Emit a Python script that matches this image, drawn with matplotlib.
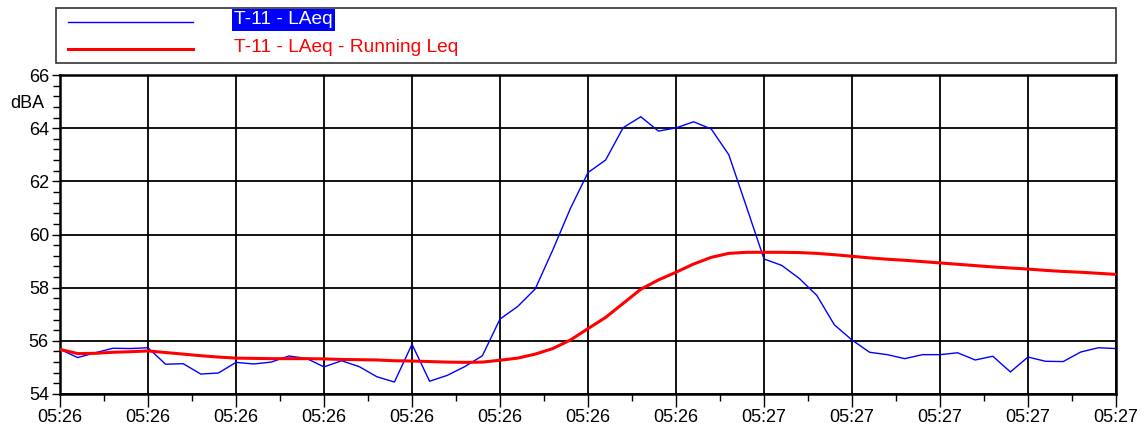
import datetime as dt
import matplotlib.pyplot as plt
import matplotlib.dates as mdates
from matplotlib.lines import Line2D
from matplotlib.patches import Rectangle
from matplotlib.ticker import MultipleLocator

plt.rcParams['font.family'] = ['Liberation Sans Narrow', 'Liberation Sans', 'DejaVu Sans']

# one-second LAeq samples, 05:26:20 .. 05:27:20
laeq = [55.68, 55.37, 55.55, 55.72, 55.71, 55.74, 55.12, 55.14, 54.75, 54.79,
        55.19, 55.13, 55.20, 55.43, 55.34, 55.02, 55.25, 55.03, 54.65, 54.45,
        55.87, 54.48, 54.70, 55.03, 55.44, 56.82, 57.29, 57.95, 59.42, 60.98,
        62.33, 62.80, 64.02, 64.43, 63.89, 64.01, 64.24, 63.97, 63.00, 61.05,
        59.08, 58.84, 58.35, 57.71, 56.60, 56.03, 55.57, 55.48, 55.33, 55.48,
        55.48, 55.55, 55.28, 55.42, 54.83, 55.39, 55.23, 55.22, 55.58, 55.74,
        55.71]
running_leq = [55.68, 55.52, 55.53, 55.57, 55.59, 55.62, 55.56, 55.50, 55.44, 55.39,
               55.35, 55.34, 55.33, 55.33, 55.33, 55.32, 55.30, 55.29, 55.28, 55.25,
               55.24, 55.22, 55.20, 55.19, 55.20, 55.27, 55.35, 55.50, 55.71, 56.03,
               56.46, 56.88, 57.41, 57.94, 58.29, 58.58, 58.89, 59.14, 59.29, 59.33,
               59.33, 59.33, 59.32, 59.29, 59.24, 59.18, 59.12, 59.07, 59.03, 58.98,
               58.93, 58.88, 58.83, 58.78, 58.74, 58.70, 58.65, 58.61, 58.58, 58.54,
               58.50]
start = dt.datetime(2020, 1, 1, 5, 26, 20)
times = [start + dt.timedelta(seconds=i) for i in range(len(laeq))]

fig = plt.figure(figsize=(11.41, 4.30), dpi=100)
ax = fig.add_axes([60 / 1141, 1 - 394 / 430, 1056 / 1141, 319 / 430])

ax.plot(times, laeq, color='#0000ff', lw=1.0, zorder=3)
ax.plot(times, running_leq, color='#ff0000', lw=2.2, zorder=4)

ax.set_xlim(times[0], times[-1])
ax.set_ylim(54, 66)
ax.yaxis.set_major_locator(MultipleLocator(2))
ax.yaxis.set_minor_locator(MultipleLocator(0.4))
ax.xaxis.set_major_locator(mdates.SecondLocator(bysecond=range(0, 60, 5)))
ax.xaxis.set_minor_locator(mdates.MicrosecondLocator(interval=2500000))
ax.xaxis.set_major_formatter(mdates.DateFormatter('%H:%M'))

ax.grid(True, which='major', color='black', lw=1.3)
ax.tick_params(which='major', direction='out', length=9, width=1.0, labelsize=13, pad=2)
ax.tick_params(which='minor', direction='out', length=5, width=1.0)
ax.tick_params(axis='y', which='major', length=6)
for sp in ax.spines.values():
    sp.set_linewidth(1.8)

fig.text(10 / 1141, 1 - 103 / 430, 'dBA', fontsize=13, va='center', ha='left')

# legend panel above the plot
fig.add_artist(Rectangle((56 / 1141, 1 - 63 / 430), 1060 / 1141, 55 / 430,
                         transform=fig.transFigure, fill=False, edgecolor='#333333', lw=1.2))
fig.add_artist(Line2D([68 / 1141, 193 / 1141], [1 - 22 / 430] * 2,
                      transform=fig.transFigure, color='#0000ff', lw=1.0))
fig.add_artist(Line2D([68 / 1141, 193 / 1141], [1 - 49 / 430] * 2,
                      transform=fig.transFigure, color='#ff0000', lw=2.2))
fig.text(234 / 1141, 1 - 20 / 430, 'T-11 - LAeq', fontsize=13.8, color='white', va='center',
         bbox=dict(boxstyle='square,pad=0.12', facecolor='#0000ff', edgecolor='none'))
fig.text(234 / 1141, 1 - 47 / 430, 'T-11 - LAeq - Running Leq', fontsize=13.8, color='#ff0000',
         va='center')

fig.savefig('out.png', dpi=100)
